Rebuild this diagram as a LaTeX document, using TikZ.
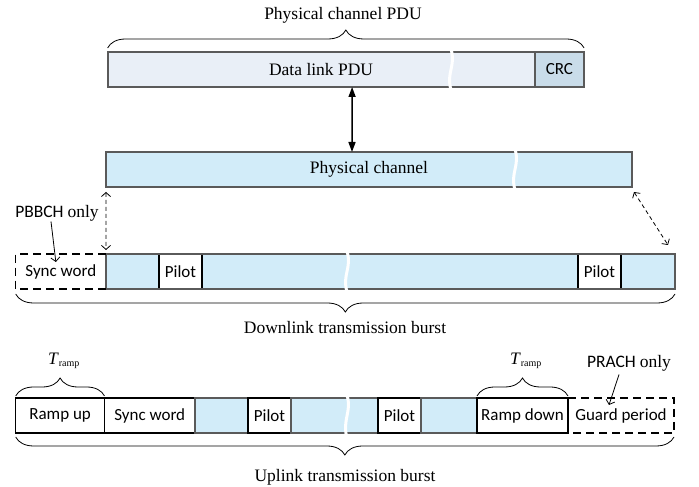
\documentclass[tikz,border=0pt]{standalone}
\usepackage{fontspec}
\setmainfont{Liberation Serif}
\setsansfont{Carlito}
\usetikzlibrary{arrows.meta,positioning,decorations.pathreplacing}

\definecolor{pdufill}{HTML}{E9EFF7}
\definecolor{crcfill}{HTML}{C9DCE9}
\definecolor{chanfill}{HTML}{D2ECF9}
\definecolor{framegray}{HTML}{5A5A5A}

\begin{document}
\begin{tikzpicture}[x=1pt,y=1pt,
    label text/.style={font=\fontsize{17.5}{20}\selectfont},
    field/.style={inner sep=0pt, outer sep=0pt, minimum height=35pt,
                  font=\sffamily\fontsize{17}{20}\selectfont},
    boxframe/.style={draw=framegray, line width=1.8pt},
    cell/.style={field, draw=black, line width=1.1pt, fill=white},
    bluecell/.style={field, draw=framegray, line width=1.4pt, fill=chanfill},
    gap/.style={draw=white, line width=3pt},
    bracket/.style={decorate, decoration={brace, amplitude=18pt}, line width=0.8pt},
    dashed line/.style={line width=1.5pt, dash pattern=on 8pt off 5pt},
    both arrow/.style={line width=1.5pt,
                       {Triangle[length=10pt,width=7pt]}-{Triangle[length=10pt,width=7pt]}},
    dashed arrow/.style={line width=0.8pt, dash pattern=on 4pt off 3pt,
                         {Straight Barb[length=4pt,width=9pt]}-{Straight Barb[length=4pt,width=9pt]}},
    pointer/.style={line width=0.8pt, -{Straight Barb[length=4pt,width=9pt]}}]

  \useasboundingbox (0,0) rectangle (699,487);

  %Data link PDU%
  \node[field, boxframe, fill=pdufill, minimum width=427pt, anchor=north west,
        label text] (pdu) at (107.6,435) {Data link PDU};
  \node[field, boxframe, fill=crcfill, minimum width=49.5pt, right=0pt of pdu] (crc) {CRC};
  \draw[gap] (451,438) .. controls (456,420) and (446,415) .. (451,397);
  \draw[bracket] ([yshift=4pt]pdu.north west) -- ([yshift=4pt]crc.north east);
  \node[label text] (pcpdu) at (343,472) {Physical channel PDU};

  %Physical channel%
  \node[field, boxframe, fill=chanfill, minimum width=526pt, anchor=north west,
        label text] (chan) at (106,335) {Physical channel};
  \draw[gap] (515,338) .. controls (520,320) and (510,315) .. (515,297);
  \draw[both arrow] ([xshift=31pt]pdu.south) -- ([xshift=-17pt]chan.north);

  %Downlink burst%
  \node[field, minimum width=90.3pt, anchor=north west] (dlsync) at (15.7,233) {Sync word};
  \node[field, fill=chanfill, minimum width=569pt, right=0pt of dlsync] (dl) {};
  \node[cell, minimum width=43pt, anchor=west] (dlpilot1) at ([xshift=53pt]dl.west) {Pilot};
  \node[cell, minimum width=43pt, anchor=west] (dlpilot2) at ([xshift=472pt]dl.west) {Pilot};
  \draw[boxframe] (dl.north west) rectangle (dl.south east);
  \draw[gap] (347,236) .. controls (352,218) and (342,213) .. (347,195);
  \draw[dashed line] (dl.north west) -- (dlsync.north west)
                     -- (dlsync.south west) -- (dl.south west);
  \draw[dashed arrow] ([yshift=-5pt]chan.south west) -- ([yshift=4pt]dl.north west);
  \draw[dashed arrow] ([shift={(2pt,-5pt)}]chan.south east) -- ([shift={(-7pt,9pt)}]dl.north east);
  \node[label text] (pbbch) at (57,274) {\sffamily PBBCH \rmfamily only};
  \draw[pointer] ([shift={(-6pt,3pt)}]pbbch.south) -- ([shift={(-5pt,-8pt)}]dlsync.north);
  \draw[bracket] ([yshift=-5pt]dl.south east) -- ([yshift=-5pt]dlsync.south west);
  \node[label text] (dllabel) at (345,159) {Downlink transmission burst};

  %Uplink burst%
  \node[cell, minimum width=88.8pt, anchor=north west] (rampup) at (15.7,89) {Ramp up};
  \node[cell, minimum width=90.5pt, right=0pt of rampup] (ulsync) {Sync word};
  \node[bluecell, minimum width=53pt, right=0pt of ulsync] (ulblue1) {};
  \node[cell, minimum width=43pt, right=0pt of ulblue1] (ulpilot1) {Pilot};
  \node[bluecell, minimum width=87pt, right=0pt of ulpilot1] (ulblue2) {};
  \node[cell, minimum width=43pt, right=0pt of ulblue2] (ulpilot2) {Pilot};
  \node[bluecell, minimum width=56pt, right=0pt of ulpilot2] (ulblue3) {};
  \node[cell, minimum width=91pt, right=0pt of ulblue3] (rampdown) {Ramp down};
  \node[field, minimum width=106pt, right=0pt of rampdown] (guard) {Guard period};
  \draw[gap] (347,92) .. controls (352,74) and (342,69) .. (347,48);
  \draw[dashed line] (guard.north west) -- (guard.north east)
                     -- (guard.south east) -- (guard.south west);
  \draw[bracket] ([yshift=2pt]rampup.north west) -- ([yshift=2pt]rampup.north east);
  \draw[bracket] ([yshift=2pt]rampdown.north west) -- ([yshift=2pt]rampdown.north east);
  \node[label text] (tramp1) at (64,126) {\textit{T}\textsubscript{\fontsize{10}{12}\selectfont ramp}};
  \node[label text] (tramp2) at (526,126) {\textit{T}\textsubscript{\fontsize{10}{12}\selectfont ramp}};
  \node[label text] (prach) at (629,124) {\sffamily PRACH \rmfamily only};
  \draw[pointer] ([xshift=-10pt]prach.south) -- ([shift={(-12pt,-7pt)}]guard.north);
  \draw[bracket] ([yshift=-4pt]guard.south east) -- ([yshift=-4pt]rampup.south west);
  \node[label text] (ullabel) at (345,10) {Uplink transmission burst};
\end{tikzpicture}
\end{document}
